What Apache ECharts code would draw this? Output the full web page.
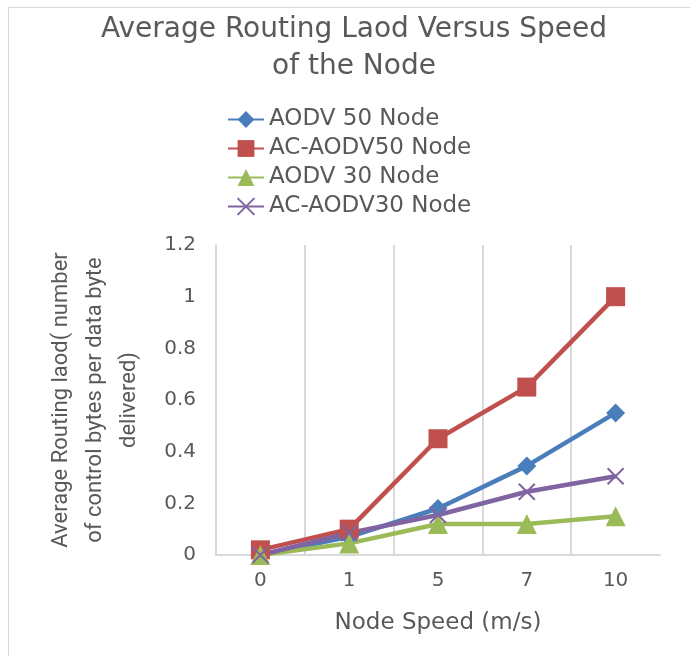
<!DOCTYPE html>
<html>
<head>
<meta charset="utf-8">
<script src="https://cdn.jsdelivr.net/npm/echarts@6/dist/echarts.min.js"></script>
<style>
  body { margin: 0; background: #fff; }
  #chart { width: 690px; height: 656px; }
  #frame { position: absolute; left: 8px; top: 7px; width: 690px; height: 660px; border: 1px solid #d9d9d9; pointer-events: none; }
</style>
</head>
<body>
<div id="chart"></div>
<div id="frame"></div>
<script>
// chart data
const speeds = ['0', '1', '5', '7', '10'];
const aodv50 = [0, 0.07, 0.18, 0.345, 0.55];
const acAodv50 = [0.02, 0.10, 0.45, 0.65, 1.0];
const aodv30 = [0, 0.045, 0.12, 0.12, 0.15];
const acAodv30 = [0, 0.085, 0.155, 0.245, 0.305];

const textColor = '#595959';
const gridColor = '#d9d9d9';
const mainFont = 'DejaVu Sans';
const crossPath = 'path://M0,0L10,10M10,0L0,10';

function lineSeries(name, data, color, symbol, size) {
    return {
        name: name,
        type: 'line',
        data: data,
        symbol: symbol,
        symbolSize: size,
        lineStyle: { color: color, width: 4.5 },
        itemStyle: { color: color, borderColor: color, borderWidth: symbol === crossPath ? 2 : 0 }
    };
}

const chart = echarts.init(document.getElementById('chart'));
chart.setOption({
    animation: false,
    title: {
        text: 'Average Routing Laod Versus Speed\nof the Node',
        left: 349,
        textAlign: 'center',
        top: 6,
        textStyle: { color: textColor, fontSize: 28, fontWeight: 'normal', fontFamily: mainFont, lineHeight: 37 }
    },
    legend: {
        orient: 'vertical',
        left: 222,
        top: 103,
        itemGap: 6,
        itemWidth: 36,
        itemHeight: 21,
        textStyle: { color: textColor, fontSize: 23, fontFamily: mainFont },
        data: ['AODV 50 Node', 'AC-AODV50 Node', 'AODV 30 Node', 'AC-AODV30 Node']
    },
    grid: { left: 216, right: 30, top: 245, bottom: 101 },
    xAxis: {
        type: 'category',
        data: speeds,
        boundaryGap: true,
        name: 'Node Speed (m/s)',
        nameLocation: 'middle',
        nameGap: 57,
        nameTextStyle: { color: textColor, fontSize: 23, fontFamily: mainFont },
        axisLine: { lineStyle: { color: gridColor, width: 2 } },
        axisTick: { show: false },
        axisLabel: { color: textColor, fontSize: 20, fontFamily: mainFont, margin: 16 },
        splitLine: { show: true, showMaxLine: false, lineStyle: { color: gridColor, width: 2 } }
    },
    yAxis: {
        type: 'value',
        min: 0,
        max: 1.2,
        interval: 0.2,
        name: 'Average Routing laod( number\nof control bytes per data byte\ndelivered)',
        nameLocation: 'middle',
        nameRotate: 90,
        nameGap: 70,
        nameTextStyle: { color: textColor, fontSize: 22, fontFamily: 'Roboto', lineHeight: 34 },
        axisLine: { show: true, lineStyle: { color: gridColor, width: 2 } },
        axisTick: { show: false },
        axisLabel: {
            color: textColor, fontSize: 20, fontFamily: mainFont, margin: 20,
            formatter: v => String(Math.round(v * 10) / 10)
        },
        splitLine: { show: false }
    },
    series: [
        lineSeries('AODV 50 Node', aodv50, '#4a7ebb', 'diamond', 19),
        lineSeries('AC-AODV50 Node', acAodv50, '#c0504d', 'rect', 19),
        lineSeries('AODV 30 Node', aodv30, '#9bbb59', 'triangle', 20),
        lineSeries('AC-AODV30 Node', acAodv30, '#8064a2', crossPath, 16)
    ]
});
</script>
</body>
</html>
